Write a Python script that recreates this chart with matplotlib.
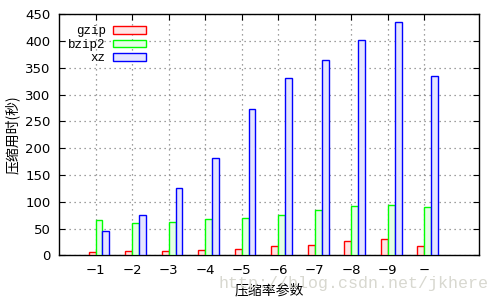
import numpy as np
import matplotlib
matplotlib.use('Agg')
import matplotlib.pyplot as plt

plt.rcParams['font.family'] = ['DejaVu Sans', 'Noto Sans CJK SC']

# Data
levels = ['−1', '−2', '−3', '−4', '−5', '−6', '−7', '−8', '−9', '−']
gzip_t = [6, 8, 8, 10, 11, 17, 19, 27, 30, 17]
bzip2_t = [66, 60, 62, 68, 69, 75, 84, 92, 94, 90]
xz_t = [45, 75, 126, 182, 274, 332, 364, 403, 435, 334]

fig = plt.figure(figsize=(5, 3), dpi=100)
ax = fig.add_axes([0.118, 0.149, 0.84, 0.803])

x = np.arange(len(levels))
w = 0.19
ax.bar(x - 0.5 * w, gzip_t, w, color='#ffe5e5', edgecolor='#ff0000', linewidth=1, label='gzip', zorder=3)
ax.bar(x + 0.5 * w, bzip2_t, w, color='#e5ffe5', edgecolor='#00ff00', linewidth=1, label='bzip2', zorder=3)
ax.bar(x + 1.5 * w, xz_t, w, color='#e5e5ff', edgecolor='#0000ff', linewidth=1, label='xz', zorder=3)

ax.set_xlim(-1, 10.5)
ax.set_ylim(0, 450)
ax.set_xticks(x)
ax.set_xticklabels(levels)
ax.set_yticks(np.arange(0, 451, 50))
ax.tick_params(direction='in', top=True, right=True, length=4, labelsize=9.5, pad=6)
ax.grid(True, color='#808080', linestyle=(0, (1, 3)), linewidth=0.9, zorder=0)
for s in ax.spines.values():
    s.set_linewidth(1)

ax.set_xlabel('压缩率参数', fontsize=10, family=['Noto Sans CJK SC'], labelpad=5)
ax.set_ylabel('压缩用时(秒)', fontsize=10, family=['Noto Sans CJK SC'], labelpad=4)

leg = ax.legend(loc='upper left', bbox_to_anchor=(0.01, 0.975), frameon=False,
                markerfirst=False, handlelength=2.7, handleheight=0.6,
                labelspacing=0.12, handletextpad=0.55, borderaxespad=0,
                prop={'family': 'Liberation Mono', 'size': 9})

# watermark of the source image
fig.text(0.976, 0.04, 'http://blog.csdn.net/jkhere', ha='right', va='baseline',
         fontsize=12, color='#d8d8d0', family='Liberation Mono', zorder=0)

fig.savefig('out.png', dpi=100)
